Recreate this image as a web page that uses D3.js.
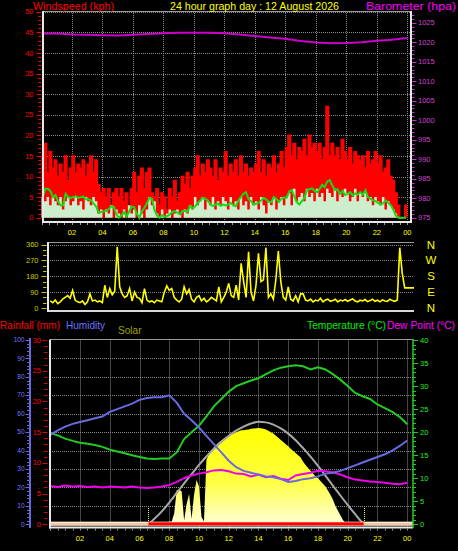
<!DOCTYPE html>
<html><head><meta charset="utf-8">
<script src="https://cdn.jsdelivr.net/npm/d3@7"></script>
<style>
html,body{margin:0;padding:0;background:#000;overflow:hidden;}
svg{display:block;}
text{font-family:"Liberation Sans",Arial,sans-serif;}
</style></head><body>
<svg id="c" width="458" height="551"></svg>
<script>
// ---------------- DATA ----------------
const hourLabels = ["02","04","06","08","10","12","14","16","18","20","22","00"];
const hourTicks = [2,4,6,8,10,12,14,16,18,20,22,24];
// 10-minute wind data (kph)
const gust = [
15,18,11,16,12,14, 10,13,11,15,9,12, 15,11,13,12,14,10, 13,15,11,14,8,6,
7,5,7,3,6,7, 5,7,4,6,2,7, 11,6,10,12,7,11, 12,6,5,7,3,6,
5,2,7,5,9,4, 6,10,8,11,7,10, 12,15,10,13,11,14, 12,10,14,9,12,11,
16,10,13,11,14,10, 15,11,13,10,12,11, 13,16,11,14,10,13, 12,15,11,13,16,12,
17,20,15,18,14,17, 16,19,15,20,17,18, 16,18,14,17,27,15, 18,15,17,14,19,16,
14,17,13,16,15,14, 15,12,16,13,14,16, 13,15,11,12,14,10, 9,6,3,0,0,3];
const windAvg = [
5,7,7,6.5,5,5.5, 4,3,3,5.8,5,4.8, 5,5.2,4.8,5,5.1,4.5, 4.5,4.2,3.5,2.7,1.2,1.4,
1.5,1.6,2.2,2.7,2.6,0.8, 0,0.5,1.4,0.3,1.5,2.7, 2.5,1,0,1.5,2.4,3.5, 4.8,4.6,1.8,0.5,0,0.6,
0.2,0.4,0.8,1.4,1.6,1.2, 0.8,1.6,1.6,1.5,2.8,2.3, 2.8,3.5,4.2,4.8,4.6,4.2, 3.2,2.8,3.2,3.4,2.9,3.2,
3,3.2,3.6,3,2.8,4.2, 5,5.8,6.2,4.5,4,3.2, 3.4,3.6,4.2,4.8,4.4,3.8, 3.8,5,4.5,3.8,4.6,4.9,
4.8,6.3,6.7,5.2,3.8,3.2, 4,4.8,6.7,6.9,7.1,6.5, 6.2,7,8,7.4,8.8,9.1, 7.8,6.7,6.9,5.8,6.5,5.5,
5.8,6.2,5.4,5.9,5.6,6.2, 5.6,6.7,5,4.6,4.2,4, 3.6,3.2,3.5,4.2,3.6,3, 2,0.5,0,0,0,0];
const windSpeed = [
5,4,5,3,5,4, 3,5,2,4,5,3, 4,5,3,4,2,5, 4,3,5,4,1,2,
0,2,1,3,0,2, 1,0,2,0,3,1, 2,0,3,1,0,2, 5,3,4,1,0,2,
0,1,2,0,1,2, 1,0,2,1,3,2, 5,3,4,5,2,4, 3,5,2,4,3,5,
4,2,5,3,4,2, 5,3,4,2,5,3, 4,2,5,3,1,4, 3,5,2,4,5,3,
5,6,3,7,4,5, 6,4,7,5,6,4, 7,5,6,4,7,6, 5,7,4,6,5,7,
6,4,5,7,4,6, 5,6,4,5,3,5, 4,3,5,2,4,3, 2,1,0,0,0,0];
// hourly barometer (hpa)
const baro = [1022.2,1022.2,1022.0,1021.9,1021.8,1021.7,1021.9,1022.1,1022.3,1022.4,1022.4,1022.4,
1022.3,1022.0,1021.6,1021.2,1020.9,1020.3,1019.9,1019.7,1019.8,1020.0,1020.4,1020.6,1021.1];
// 10-minute wind direction (degrees)
const windDir = [
40,30,45,25,35,50, 60,70,55,100,45,35, 30,40,20,35,80,40, 45,35,40,30,129,60,
110,75,95,347,120,80, 60,70,110,40,90,60, 55,30,110,45,35,40, 30,45,40,35,90,125,
100,110,60,45,35,50, 120,80,105,50,35,60, 70,40,55,35,45,60, 50,40,120,35,60,90,
140,70,60,130,45,253, 150,60,319,90,40,130, 310,150,160,342,60,80, 50,160,323,150,60,45,
120,50,40,70,35,80, 80,45,40,50,35,45, 40,55,35,45,50,38, 42,50,35,45,40,48,
38,45,52,40,35,44, 40,48,36,42,50,38, 44,35,46,40,38,50, 42,38,45,342,196,114];
// half-hourly temperature, humidity, dew point
const temperature = [19.8,19.3,18.6,18.1,17.7,17.5,17.2,16.8,16.2,15.8,15.4,15.0,14.6,14.3,14.2,14.3,
14.3,15.6,18.5,20.0,21.4,23.4,25.6,27.2,28.8,30.0,30.6,31.2,31.7,32.6,33.4,34.0,
34.3,34.5,34.3,33.6,34.1,33.6,32.6,31.4,30.0,28.5,27.8,27.2,26.0,25.2,24.4,23.3,21.7];
const humidity = [48.5,51,53,54.5,55.5,56.5,57.5,58.5,61,62.5,64,65.5,67.5,68.5,69,69,
70,66,60,56.5,52.5,48,43.5,39,34.5,31,29,28,27,26,25.5,24.5,
23,23.5,24.5,25,26,27.5,28,29,30.5,32,33.5,35,36.5,38,40,42.5,45.5];
const dewPoint = [8.3,8.1,8.4,8.2,8.3,8.1,8.2,8.0,8.2,8.1,8.0,8.2,8.0,7.9,8.0,8.2,
8.5,9.2,10.0,10.6,11.0,11.3,11.7,11.8,11.5,11.0,10.9,10.4,10.8,10.2,10.5,9.9,
9.6,10.6,10.9,11.2,11.6,11.5,11.3,10.8,10.2,9.7,9.5,9.3,9.2,9.0,8.8,8.7,9.0];
// 10-minute solar radiation (W/m2)
const solar = [
0,0,0,0,0,0, 0,0,0,0,0,0, 0,0,0,0,0,0, 0,0,0,0,0,0, 0,0,0,0,0,0, 0,0,0,0,0,0,
0,0,0,0,0,5, 6,8,8,10,12,12, 14,15,60,185,188,180, 20,110,165,30,160,240,
205,40,15,350,380,400, 418,432,445,455,465,472, 478,486,493,500,505,510,
510,513,515,518,520,521, 522,521,518,514,508,500, 492,481,469,458,447,435,
423,410,398,387,375,362, 340,322,305,290,275,260, 250,235,220,205,183,160,
135,100,75,50,25,8, 3,0,0,0,0,0, 0,0,0,0,0,0, 0,0,0,0,0,0, 0,0,0,0,0,0, 0];
// half-hourly theoretical max solar (W/m2)
const solarMax = [0,0,0,0,0,0,0,0,0,0,0,0,0,0,
30,70,118,170,222,272,322,368,410,447,480,508,530,547,556,553,541,520,492,456,413,367,317,264,210,157,105,55,10,0,
0,0,0,0,0];
const sunTimes = [6.6, 21.07]; // sunrise, sunset (hours)
const windTicks = [0,5,10,15,20,25,30,35,40,45,50];
const baroTicks = [975,980,985,990,995,1000,1005,1010,1015,1020,1025];
const dirTicks = [0,90,180,270,360];
const dirLetters = ["N","E","S","W","N"];
const humTicks = [0,10,20,30,40,50,60,70,80,90,100];
const rainTicks = [0,5,10,15,20,25,30];
const tempTicks = [0,5,10,15,20,25,30,35,40];

// ---------------- DRAW ----------------
const svg = d3.select("#c");
svg.append("rect").attr("width",458).attr("height",551).attr("fill","#000");
const GRID = "#8a8a8a";
function hline(g,x1,x2,y,col,w,dash){const l=g.append("line").attr("x1",x1).attr("x2",x2).attr("y1",y).attr("y2",y).attr("stroke",col).attr("stroke-width",w||1);if(dash)l.attr("stroke-dasharray",dash);return l;}
function vline(g,x,y1,y2,col,w,dash){const l=g.append("line").attr("x1",x).attr("x2",x).attr("y1",y1).attr("y2",y2).attr("stroke",col).attr("stroke-width",w||1);if(dash)l.attr("stroke-dasharray",dash);return l;}
function txt(g,x,y,s,col,size,anchor,len){const t=g.append("text").attr("x",x).attr("y",y).text(s).attr("fill",col).attr("font-size",size).attr("text-anchor",anchor||"start");if(len)t.attr("textLength",len).attr("lengthAdjust","spacingAndGlyphs");return t;}

// ===== TOP PANEL =====
const T = {l:43, r:411, t:11, b:222};
const xT = d3.scaleLinear().domain([0,24]).range([41.5,407.3]);
const yW = d3.scaleLinear().domain([0,50]).range([217.7,11.7]);
const yB = d3.scaleLinear().domain([975,1025]).range([217.7,22.7]);
const gT = svg.append("g");
windTicks.slice(1).forEach(v=>hline(gT,T.l,T.r,Math.round(yW(v))+0.5,GRID,1,"1,1"));
hourTicks.forEach(h=>vline(gT,Math.round(xT(h))+0.5,T.t,T.b,GRID,1,"1,1"));
const stepArea = (arr)=>d3.area().x((d,i)=>xT(i/6)).y0(yW(0)).y1(d=>yW(d)).curve(d3.curveStepAfter)(arr.concat([arr[arr.length-1]]));
gT.append("path").attr("d",stepArea(gust)).attr("fill","#ff0000");
gT.append("path").attr("d",d3.line().x((d,i)=>xT(i/6)).y(d=>yW(d)).curve(d3.curveStepAfter)(gust.concat([gust[gust.length-1]])))
  .attr("fill","none").attr("stroke","#ff0000").attr("stroke-width",1.5);
gT.append("path").attr("d",stepArea(windSpeed)).attr("fill","#cdeecd");
gT.append("path").attr("d",d3.line().x((d,i)=>xT(i/6+1/12)).y(d=>yW(d))(windAvg))
  .attr("fill","none").attr("stroke","#11dd11").attr("stroke-width",2);
gT.append("path").attr("d",d3.line().x((d,i)=>xT(i)).y(d=>yB(d))(baro))
  .attr("fill","none").attr("stroke","#cc00cc").attr("stroke-width",2);
// frame
hline(gT,T.l,T.r,T.t+0.5,"#9a9a9a",1);
vline(gT,T.l,T.t,T.b+1,"#e8e8e8",2);
vline(gT,T.r,T.t,T.b+1,"#e8e8e8",2);
hline(gT,T.l-1,T.r+1,T.b,"#e8e8e8",2);
// left ticks
d3.range(0,51).forEach(v=>{const y=Math.round(yW(v))+0.5;hline(gT,v%5===0?36.5:38.5,41,y,"#ff0000",1);});
windTicks.forEach(v=>txt(gT,33.5,yW(v)+2.6,String(v),"#ff0000",7.5,"end"));
// right ticks
d3.range(975,1028).forEach(v=>{const y=Math.round(yB(v))+0.5;hline(gT,412,v%5===0?416.5:414.5,y,"#d030d0",1);});
baroTicks.forEach(v=>txt(gT,418,yB(v)+2.6,String(v),"#d040d0",7.5,"start"));
// bottom ticks + labels
d3.range(0,24.5,0.5).forEach(h=>vline(gT,Math.round(xT(h))+0.5,T.b+1,T.b+3,"#9a9a9a",1));
hourTicks.forEach((h,i)=>txt(gT,xT(h),235,hourLabels[i],"#ffff00",7.5,"middle"));
// titles
txt(svg,33,9.5,"Windspeed (kph)","#ff0000",11,"start",81);
txt(svg,170,9.5,"24 hour graph day : 12 August 2026","#ffff00",11,"start",169);
txt(svg,456,9.5,"Barometer (hpa)","#ff00ff",11,"end",90);

// ===== MIDDLE PANEL =====
const M = {l:48, r:414, t:242, b:311};
const xM = d3.scaleLinear().domain([0,24]).range([50.3,407.2]);
const yD = d3.scaleLinear().domain([0,360]).range([308,244.5]);
const gM = svg.append("g");
[90,180,270,360].forEach(v=>hline(gM,M.l,M.r,Math.round(yD(v))+0.5,GRID,1,"1,1"));
const dirPts = windDir.map((d,i)=>[xM(i/6),yD(d)]);
dirPts.push([M.r, yD(windDir[windDir.length-1])]);
gM.append("path").attr("d",d3.line()(dirPts)).attr("fill","none").attr("stroke","#ffff00").attr("stroke-width",1.6);
hline(gM,M.l,M.r,M.t+0.5,"#9a9a9a",1.2);
hline(gM,M.l,M.r,M.b,"#d8d8d8",2);
vline(gM,M.l,M.t,M.b+1,"#e8e8e8",2);
d3.range(0,361,30).forEach(v=>{const y=Math.round(yD(v))+0.5;hline(gM,v%90===0?41.5:43,46.5,y,"#c8c800",1);});
dirTicks.forEach(v=>txt(gM,38.5,yD(v)+2.6,String(v),"#c8c800",7.5,"end"));
dirTicks.forEach((v,i)=>txt(gM,431,yD(v)+4,dirLetters[i],"#ffff00",11.5,"middle"));

// ===== BOTTOM PANEL =====
const B = {l:50, r:413, t:339.5, b:527.5};
const xB = d3.scaleLinear().domain([0,24]).range([50.3,407.2]);
const yH = d3.scaleLinear().domain([0,100]).range([524.3,340]);
const yR = d3.scaleLinear().domain([0,30]).range([524.3,340]);
const yTp = d3.scaleLinear().domain([0,40]).range([524.3,340]);
const yS = d3.scaleLinear().domain([0,1000]).range([524.3,340]);
const gB = svg.append("g");
humTicks.slice(1,10).forEach(v=>hline(gB,B.l,B.r,Math.round(yH(v))+0.5,GRID,1,"1,1"));
hourTicks.forEach(h=>vline(gB,Math.round(xB(h))+0.5,B.t,B.b,GRID,1,"1,1"));
// solar
const defs = svg.append("defs");
const gr = defs.append("linearGradient").attr("id","sg").attr("gradientUnits","userSpaceOnUse").attr("x1",0).attr("x2",0).attr("y1",yS(520)).attr("y2",yS(0));
gr.append("stop").attr("offset","0").attr("stop-color","#ffff00");
gr.append("stop").attr("offset","0.55").attr("stop-color","#ffff40");
gr.append("stop").attr("offset","1").attr("stop-color","#ffffd8");
gB.append("path").attr("d",d3.area().x((d,i)=>xB(i/6)).y0(yS(0)).y1(d=>yS(d))(solar)).attr("fill","url(#sg)");
gB.append("path").attr("d",d3.line().x((d,i)=>xB(i/2)).y(d=>yS(d)).curve(d3.curveMonotoneX)(solarMax))
  .attr("fill","none").attr("stroke","#a8a8a8").attr("stroke-width",2);
// lines
gB.append("path").attr("d",d3.line().x((d,i)=>xB(i/2)).y(d=>yTp(d))(temperature)).attr("fill","none").attr("stroke","#22cc22").attr("stroke-width",2);
gB.append("path").attr("d",d3.line().x((d,i)=>xB(i/2)).y(d=>yTp(d))(dewPoint)).attr("fill","none").attr("stroke","#ee00ee").attr("stroke-width",2);
gB.append("path").attr("d",d3.line().x((d,i)=>xB(i/2)).y(d=>yH(d))(humidity)).attr("fill","none").attr("stroke","#6a6ae0").attr("stroke-width",2);
// sunrise/sunset markers
sunTimes.forEach(h=>vline(gB,Math.round(xB(h))+0.5,508,523,"#ffff00",1,"1,1"));
// day/night bar
gB.append("rect").attr("x",B.l).attr("y",yR(0)-2.5).attr("width",B.r-B.l).attr("height",4).attr("fill","#f2c9a6");
gB.append("rect").attr("x",B.l).attr("y",yR(0)-2.5).attr("width",B.r-B.l).attr("height",1).attr("fill","#fff0e8");
gB.append("rect").attr("x",xB(sunTimes[0])).attr("y",yR(0)-2).attr("width",xB(sunTimes[1])-xB(sunTimes[0])).attr("height",3).attr("fill","#ff0000");
// frame
hline(gB,B.l,B.r,B.t,"#9a9a9a",1);
vline(gB,B.l,B.t,B.b+1,"#e8e8e8",2);
hline(gB,B.l-1,B.r,B.b,"#e8e8e8",2);
// humidity axis
vline(gB,30,338,528,"#6a6ae0",2);
d3.range(0,101,2).forEach(v=>{const y=Math.round(yH(v))+0.5;hline(gB,v%10===0?25.5:27,29,y,"#6a6ae0",1);});
humTicks.forEach(v=>txt(gB,24.5,yH(v)+2.2,String(v),"#7878ff",6.5,"end"));
// rain axis
d3.range(0,31,1).forEach(v=>{const y=Math.round(yR(v))+0.5;hline(gB,v%5===0?42.5:44,47.5,y,"#dd0000",1);});
rainTicks.forEach(v=>txt(gB,41,yR(v)+2.6,String(v),"#ff0000",7.5,"end"));
// temp axis
vline(gB,413,339,528,"#22cc22",1.5);
d3.range(0,41,1).forEach(v=>{const y=Math.round(yTp(v))+0.5;hline(gB,413,v%5===0?418:416,y,"#22cc22",1);});
tempTicks.forEach(v=>txt(gB,420,yTp(v)+2.6,String(v),"#22ee22",7.5,"start"));
// x ticks / labels
d3.range(0,24.5,0.5).forEach(h=>vline(gB,Math.round(xB(h))+0.5,B.b+1,B.b+3,"#9a9a9a",1));
hourTicks.forEach((h,i)=>txt(gB,xB(h),541,hourLabels[i],"#ffff00",7.5,"middle"));
// legends
txt(svg,0,328.5,"Rainfall (mm)","#ff0000",11,"start",60);
txt(svg,66,328.5,"Humidity","#7070ff",11,"start",39);
txt(svg,118,333.5,"Solar","#a0a000",11,"start",23.5);
txt(svg,307,329,"Temperature (°C)","#00ee00",11,"start",79);
txt(svg,387,329,"Dew Point (°C)","#ff00ff",10.3,"start",68);
</script>
</body></html>
